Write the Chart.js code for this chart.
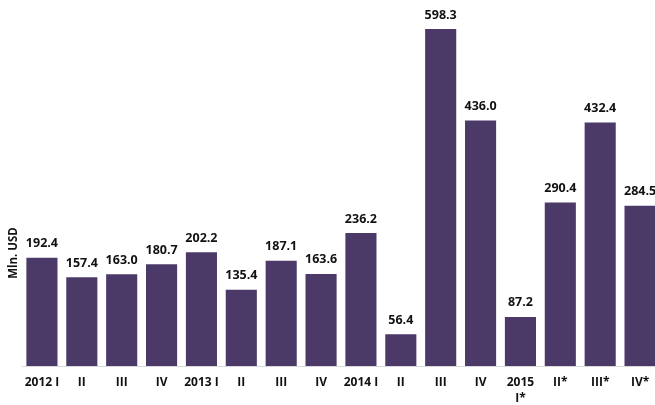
<!DOCTYPE html>
<html>
<head>
<meta charset="utf-8">
<script src="https://cdn.jsdelivr.net/npm/chart.js@4"></script>
<style>
  html, body { margin: 0; padding: 0; background: #fff; overflow: hidden; }
  #wrap { width: 660px; height: 405px; }
</style>
</head>
<body>
<div id="wrap"><canvas id="quarterChart"></canvas></div>
<script>
// ====== DATA ======
const quarterLabels = [
  "2012 I", "II", "III", "IV",
  "2013 I", "II", "III", "IV",
  "2014 I", "II", "III", "IV",
  ["2015", "I*"], "II*", "III*", "IV*"
];
const values = [
  192.4, 157.4, 163.0, 180.7,
  202.2, 135.4, 187.1, 163.6,
  236.2, 56.4, 598.3, 436.0,
  87.2, 290.4, 432.4, 284.5
];
const axisTitle = "Mln. USD";

const FONT = "'Open Sans', sans-serif";
const BAR_COLOR = "#4b3a67";

// ====== PLUGINS ======
const valueLabels = {
  id: "valueLabels",
  afterDatasetsDraw(chart) {
    const c = chart.ctx;
    const meta = chart.getDatasetMeta(0);
    c.save();
    c.font = "bold 12.5px " + FONT;
    c.fillStyle = "#111";
    c.textAlign = "center";
    c.textBaseline = "middle";
    meta.data.forEach((bar, i) => {
      c.fillText(values[i].toFixed(1), bar.x, bar.y - 14);
    });
    c.restore();
  }
};

const yTitle = {
  id: "yTitle",
  afterDraw(chart) {
    const c = chart.ctx;
    const area = chart.chartArea;
    c.save();
    c.translate(14, area.bottom - 113);
    c.rotate(-Math.PI / 2);
    c.font = "bold 11.5px " + FONT;
    c.fillStyle = "#111";
    c.textAlign = "center";
    c.textBaseline = "middle";
    c.fillText(axisTitle, 0, 0);
    c.restore();
  }
};

// ====== CHART ======
const ctx = document.getElementById("quarterChart").getContext("2d");
new Chart(ctx, {
  type: "bar",
  data: {
    labels: quarterLabels,
    datasets: [{
      label: axisTitle,
      data: values,
      backgroundColor: BAR_COLOR,
      categoryPercentage: 1,
      barPercentage: 0.78
    }]
  },
  options: {
    responsive: true,
    maintainAspectRatio: false,
    animation: false,
    layout: { padding: 0 },
    plugins: {
      legend: { display: false },
      tooltip: { enabled: false }
    },
    scales: {
      x: {
        grid: { display: false, drawTicks: false },
        border: { display: true, color: "#d9d9d9", width: 1 },
        ticks: {
          color: "#111",
          font: { family: FONT, size: 12, weight: "bold", lineHeight: 1.3 },
          padding: 9,
          maxRotation: 0,
          autoSkip: false
        },
        afterFit: s => { s.height = 39; }
      },
      y: {
        min: 0,
        max: 650,
        grid: { display: false, drawTicks: false },
        border: { display: false },
        ticks: { display: false },
        afterFit: s => { s.width = 22; }
      }
    }
  },
  plugins: [valueLabels, yTitle]
});
</script>
</body>
</html>
